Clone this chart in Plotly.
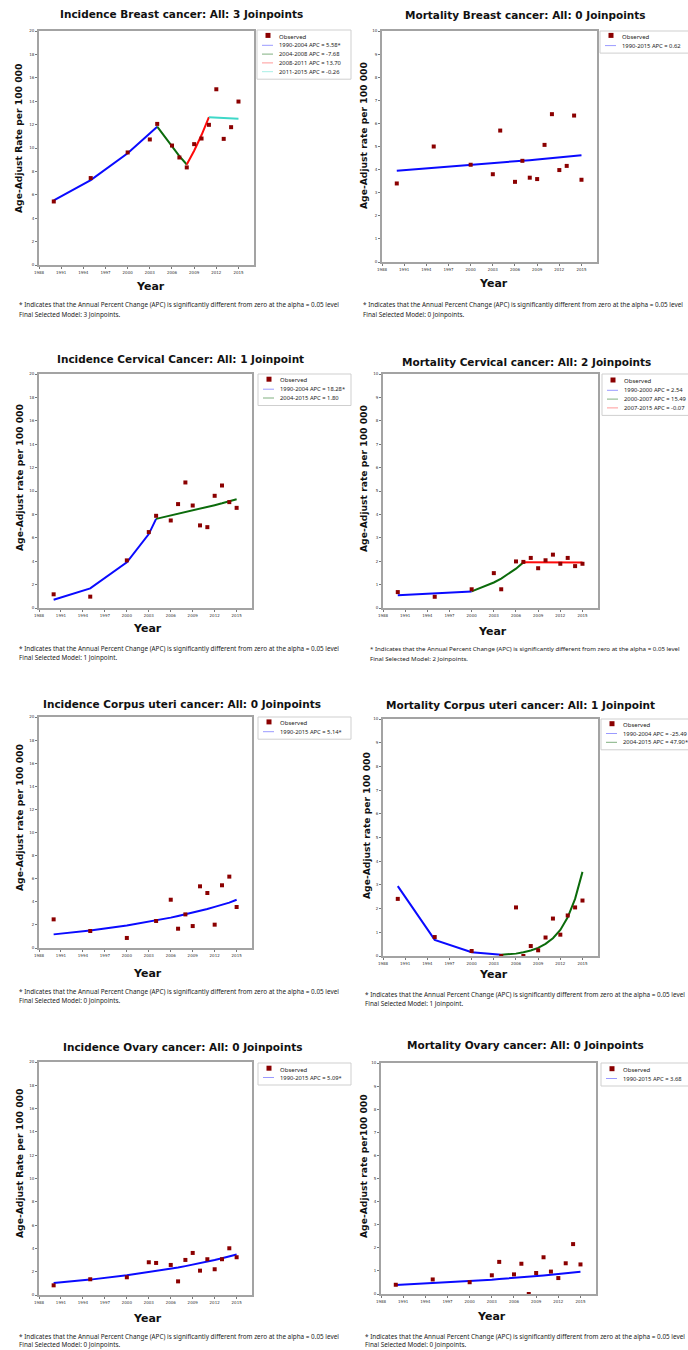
import plotly.graph_objects as go

W, H = 688, 1350

# ---------------- data ----------------
YEARS = [1990, 1995, 2000, 2003, 2004, 2006, 2007, 2008, 2009, 2010, 2011, 2012, 2013, 2014, 2015]
YEARS_CORPUS = [1990, 1995, 2000, 2004, 2006, 2007, 2008, 2009, 2010, 2011, 2012, 2013, 2014, 2015]

BREAST_INC_OBS = [5.43, 7.43, 9.62, 10.73, 12.06, 10.21, 9.19, 8.34, 10.33, 10.81, 11.98, 15.02, 10.78, 11.78, 13.97]
BREAST_INC_FIT = [5.52, 7.25, 9.55, 11.19, 11.82, 10.07, 9.30, 8.59, 9.77, 11.11, 12.63, 12.60, 12.56, 12.53, 12.50]
BREAST_INC_SEGS = [(1990, 2004), (2004, 2008), (2008, 2011), (2011, 2015)]

BREAST_MORT_OBS = [3.40, 5.00, 4.21, 3.80, 5.69, 3.47, 4.38, 3.65, 3.59, 5.07, 6.40, 3.98, 4.16, 6.34, 3.56]
BREAST_MORT_FIT = [3.95, 4.07, 4.20, 4.28, 4.30, 4.36, 4.38, 4.41, 4.44, 4.47, 4.50, 4.53, 4.56, 4.59, 4.62]
BREAST_MORT_SEGS = [(1990, 2015)]

CERV_INC_OBS = [1.17, 0.97, 4.07, 6.49, 7.88, 7.48, 8.88, 10.73, 8.76, 7.06, 6.91, 9.59, 10.47, 9.05, 8.56]
CERV_INC_FIT = [0.71, 1.68, 3.90, 6.32, 7.62, 7.90, 8.04, 8.18, 8.33, 8.48, 8.63, 8.79, 8.95, 9.11, 9.30]
CERV_INC_SEGS = [(1990, 2004), (2004, 2015)]

CERV_MORT_OBS = [0.68, 0.48, 0.80, 1.49, 0.80, 1.99, 1.97, 2.14, 1.70, 2.04, 2.28, 1.89, 2.14, 1.79, 1.89]
CERV_MORT_FIT = [0.55, 0.62, 0.71, 1.09, 1.26, 1.68, 1.95, 1.95, 1.95, 1.95, 1.94, 1.94, 1.94, 1.94, 1.94]
CERV_MORT_SEGS = [(1990, 2000), (2000, 2007), (2007, 2015)]

CORPUS_INC_OBS = [2.48, 1.47, 0.87, 2.34, 4.18, 1.67, 2.91, 1.90, 5.34, 4.76, 2.02, 5.43, 6.18, 3.55]
CORPUS_INC_FIT = [1.18, 1.52, 1.95, 2.38, 2.63, 2.77, 2.91, 3.06, 3.22, 3.38, 3.56, 3.74, 3.93, 4.18]
CORPUS_INC_SEGS = [(1990, 2015)]

CORPUS_MORT_OBS = [2.41, 0.80, 0.21, 0.00, 2.05, 0.00, 0.42, 0.24, 0.78, 1.58, 0.90, 1.71, 2.05, 2.34]
CORPUS_MORT_FIT = [2.95, 0.68, 0.16, 0.05, 0.10, 0.16, 0.23, 0.34, 0.51, 0.75, 1.10, 1.63, 2.41, 3.55]
CORPUS_MORT_SEGS = [(1990, 2004), (2004, 2015)]

OVARY_INC_OBS = [0.83, 1.35, 1.52, 2.81, 2.75, 2.58, 1.17, 3.01, 3.61, 2.09, 3.07, 2.21, 3.07, 4.01, 3.24]
OVARY_INC_FIT = [1.04, 1.32, 1.69, 1.95, 2.04, 2.25, 2.36, 2.48, 2.60, 2.73, 2.87, 3.01, 3.16, 3.31, 3.47]
OVARY_INC_SEGS = [(1990, 2015)]

OVARY_MORT_OBS = [0.40, 0.63, 0.51, 0.81, 1.39, 0.85, 1.31, 0.00, 0.91, 1.59, 0.97, 0.69, 1.33, 2.16, 1.28]
OVARY_MORT_FIT = [0.39, 0.47, 0.56, 0.62, 0.65, 0.69, 0.72, 0.75, 0.77, 0.80, 0.83, 0.86, 0.89, 0.93, 0.96]
OVARY_MORT_SEGS = [(1990, 2015)]

X_TICKS = [1988, 1991, 1994, 1997, 2000, 2003, 2006, 2009, 2012, 2015]

TITLES = [
    "Incidence Breast cancer: All: 3 Joinpoints",
    "Mortality Breast cancer: All: 0 Joinpoints",
    "Incidence Cervical Cancer: All: 1 Joinpoint",
    "Mortality Cervical cancer: All: 2 Joinpoints",
    "Incidence Corpus uteri cancer: All: 0 Joinpoints",
    "Mortality Corpus uteri cancer: All: 1 Joinpoint",
    "Incidence Ovary cancer: All: 0 Joinpoints",
    "Mortality Ovary cancer: All: 0 Joinpoints",
]
Y_TITLES = [
    "Age-Adjust Rate per 100 000",
    "Age-Adjust rate per 100 000",
    "Age-Adjust rate per 100 000",
    "Age-Adjust rate per 100 000",
    "Age-Adjust rate per 100 000",
    "Age-Adjust rate per 100 000",
    "Age-Adjust Rate per 100 000",
    "Age-Adjust rate per100 000",
]
LEGEND_LABELS = [
    ["1990-2004 APC = 5.58*", "2004-2008 APC = -7.68", "2008-2011 APC = 13.70", "2011-2015 APC = -0.26"],
    ["1990-2015 APC = 0.62"],
    ["1990-2004 APC = 18.28*", "2004-2015 APC = 1.80"],
    ["1990-2000 APC = 2.54", "2000-2007 APC = 15.49", "2007-2015 APC = -0.07"],
    ["1990-2015 APC = 5.14*"],
    ["1990-2004 APC = -25.49", "2004-2015 APC = 47.90*"],
    ["1990-2015 APC = 5.09*"],
    ["1990-2015 APC = 3.68"],
]
MODEL_NOTES = [
    "Final Selected Model: 3 Joinpoints.",
    "Final Selected Model: 0 Joinpoints.",
    "Final Selected Model: 1 Joinpoint.",
    "Final Selected Model: 2 Joinpoints.",
    "Final Selected Model: 0 Joinpoints.",
    "Final Selected Model: 1 Joinpoint.",
    "Final Selected Model: 0 Joinpoints.",
    "Final Selected Model: 0 Joinpoints.",
]
FOOTNOTE = "* Indicates that the Annual Percent Change (APC) is significantly different from zero at the alpha = 0.05 level"

# ---------------- styles / layout geometry ----------------
SEG_COLORS = ["#0a0aff", "#0b6b0b", "#ff0a0a", "#3fd8c8"]
LEG_COLORS = ["#9a9aff", "#80b080", "#ff9a9a", "#a8efe6"]
OBS_COLOR = "#8b0000"
FRAME = "#a3a3a3"

panels = [
    dict(years=YEARS, obs=BREAST_INC_OBS, fit=BREAST_INC_FIT, segs=BREAST_INC_SEGS, ymax=20, dtick=2,
         plot=(39, 31, 254, 265), title=(181, 14), ytitle=(19, 139), year=(150, 286), foot=(17, 305, 314),
         fsize=6.35, leg=(257, 30, 351), leg_obs=36.7, leg_l0=45.3),
    dict(years=YEARS, obs=BREAST_MORT_OBS, fit=BREAST_MORT_FIT, segs=BREAST_MORT_SEGS, ymax=10, dtick=1,
         plot=(382, 31, 597, 262), title=(525, 15), ytitle=(363, 136), year=(493, 284), foot=(361, 305, 314),
         fsize=6.35, leg=(600, 31, 696), leg_obs=36.7, leg_l0=45.6),
    dict(years=YEARS, obs=CERV_INC_OBS, fit=CERV_INC_FIT, segs=CERV_INC_SEGS, ymax=20, dtick=2,
         plot=(39, 374, 252, 608), title=(180, 359), ytitle=(19, 478), year=(147, 629), foot=(17, 648, 657),
         fsize=6.35, leg=(258, 374, 351), leg_obs=380.5, leg_l0=389.2),
    dict(years=YEARS, obs=CERV_MORT_OBS, fit=CERV_MORT_FIT, segs=CERV_MORT_SEGS, ymax=10, dtick=1,
         plot=(383, 374, 598, 608), title=(526, 362), ytitle=(363, 479), year=(492, 631), foot=(368, 649, 658),
         fsize=6.15, leg=(602, 374, 696), leg_obs=381.3, leg_l0=390.3),
    dict(years=YEARS_CORPUS, obs=CORPUS_INC_OBS, fit=CORPUS_INC_FIT, segs=CORPUS_INC_SEGS, ymax=20, dtick=2,
         plot=(39, 717, 252, 948), title=(182, 704), ytitle=(19, 818), year=(147, 973), foot=(17, 991, 1000),
         fsize=6.35, leg=(258, 717, 351), leg_obs=723.2, leg_l0=731.7),
    dict(years=YEARS_CORPUS, obs=CORPUS_MORT_OBS, fit=CORPUS_MORT_FIT, segs=CORPUS_MORT_SEGS, ymax=10, dtick=1,
         plot=(383, 719, 598, 956), title=(520, 705), ytitle=(366, 825), year=(493, 974), foot=(363, 994, 1003),
         fsize=6.35, leg=(601, 719, 696), leg_obs=725.0, leg_l0=733.5),
    dict(years=YEARS, obs=OVARY_INC_OBS, fit=OVARY_INC_FIT, segs=OVARY_INC_SEGS, ymax=20, dtick=2,
         plot=(39, 1062, 252, 1295), title=(182, 1047), ytitle=(19, 1164), year=(147, 1318), foot=(17, 1336, 1344.5),
         fsize=6.35, leg=(258, 1063, 351), leg_obs=1069.5, leg_l0=1077.5),
    dict(years=YEARS, obs=OVARY_MORT_OBS, fit=OVARY_MORT_FIT, segs=OVARY_MORT_SEGS, ymax=10, dtick=1,
         plot=(381, 1063, 596, 1294), title=(525, 1045), ytitle=(363, 1166), year=(491, 1316), foot=(363, 1336, 1344.5),
         fsize=6.35, leg=(601, 1063, 696), leg_obs=1070.0, leg_l0=1078.5),
]


def px(x):
    return x / W


def py(y):
    return 1 - y / H


fig = go.Figure()
layout = dict(width=W, height=H, margin=dict(l=0, r=0, t=0, b=0, autoexpand=False),
              paper_bgcolor="white", plot_bgcolor="white", showlegend=False)
annotations = []
shapes = []

TITLE_FONT = "DejaVu Sans"
SMALL_FONT = "Noto Sans"
ROW = 8.8

for i, p in enumerate(panels):
    n = i + 1
    xa = "xaxis" if n == 1 else f"xaxis{n}"
    ya = "yaxis" if n == 1 else f"yaxis{n}"
    xr = "x" if n == 1 else f"x{n}"
    yr = "y" if n == 1 else f"y{n}"
    x0, y0, x1, y1 = p["plot"]
    layout[xa] = dict(domain=[px(x0), px(x1)], anchor=yr, range=[1988, 2017.1],
                      tickmode="array", tickvals=X_TICKS, ticktext=[str(t) for t in X_TICKS],
                      tickfont=dict(size=4, color="#333", family=TITLE_FONT),
                      ticks="outside", ticklen=2, tickcolor="#777", tickwidth=1,
                      showline=True, linecolor=FRAME, linewidth=1.6, mirror=True,
                      showgrid=False, zeroline=False, fixedrange=True)
    layout[ya] = dict(domain=[py(y1), py(y0)], anchor=xr, range=[0, p["ymax"]],
                      dtick=p["dtick"], tick0=0,
                      tickfont=dict(size=4, color="#333", family=TITLE_FONT),
                      ticks="outside", ticklen=2, tickcolor="#777", tickwidth=1,
                      showline=True, linecolor=FRAME, linewidth=1.6, mirror=True,
                      showgrid=False, zeroline=False, fixedrange=True)

    # fitted segments
    for k, (a, b) in enumerate(p["segs"]):
        xs = [yy for yy in p["years"] if a <= yy <= b]
        ys = [v for yy, v in zip(p["years"], p["fit"]) if a <= yy <= b]
        fig.add_trace(go.Scatter(x=xs, y=ys, mode="lines", xaxis=xr, yaxis=yr,
                                 line=dict(color=SEG_COLORS[k], width=2), cliponaxis=False,
                                 hoverinfo="skip"))
    # observed
    fig.add_trace(go.Scatter(x=p["years"], y=p["obs"], mode="markers", xaxis=xr, yaxis=yr,
                             marker=dict(symbol="square", size=4, color=OBS_COLOR, line=dict(width=0)),
                             cliponaxis=False, name="Observed"))

    # title
    tx, ty = p["title"]
    annotations.append(dict(x=px(tx), y=py(ty), xref="paper", yref="paper", text="<b>%s</b>" % TITLES[i],
                            showarrow=False, xanchor="center", yanchor="middle",
                            font=dict(family=TITLE_FONT, size=10.5, color="#111")))
    # y title
    yx, yy_ = p["ytitle"]
    annotations.append(dict(x=px(yx), y=py(yy_), xref="paper", yref="paper", text="<b>%s</b>" % Y_TITLES[i],
                            showarrow=False, textangle=-90, xanchor="center", yanchor="middle",
                            font=dict(family=TITLE_FONT, size=9.2, color="#111")))
    # x title
    ex, ey = p["year"]
    annotations.append(dict(x=px(ex), y=py(ey), xref="paper", yref="paper", text="<b>Year</b>",
                            showarrow=False, xanchor="center", yanchor="middle",
                            font=dict(family=TITLE_FONT, size=11, color="#111")))
    # footnotes
    fx, f1, f2 = p["foot"]
    annotations.append(dict(x=px(fx), y=py(f1), xref="paper", yref="paper", text=FOOTNOTE,
                            showarrow=False, xanchor="left", yanchor="middle",
                            font=dict(family=SMALL_FONT, size=p["fsize"], color="#222")))
    annotations.append(dict(x=px(fx), y=py(f2), xref="paper", yref="paper", text=MODEL_NOTES[i],
                            showarrow=False, xanchor="left", yanchor="middle",
                            font=dict(family=SMALL_FONT, size=p["fsize"], color="#222")))

    # legend box (drawn manually)
    lx0, ly0, lx1 = p["leg"]
    labels = LEGEND_LABELS[i]
    last_row = p["leg_l0"] + ROW * (len(labels) - 1)
    ly1 = last_row + 7.5
    shapes.append(dict(type="rect", xref="paper", yref="paper", x0=px(lx0), x1=px(lx1),
                       y0=py(ly1), y1=py(ly0), line=dict(color="#cfcfcf", width=1), fillcolor="white",
                       layer="below"))
    oy = p["leg_obs"] - 1.3
    shapes.append(dict(type="rect", xref="paper", yref="paper", x0=px(lx0 + 8.5), x1=px(lx0 + 13.5),
                       y0=py(oy + 2.5), y1=py(oy - 2.5), line=dict(width=0), fillcolor=OBS_COLOR))
    annotations.append(dict(x=px(lx0 + 19.5), y=py(p["leg_obs"]), xref="paper", yref="paper", text="Observed",
                            showarrow=False, xanchor="left", yanchor="middle",
                            font=dict(family=SMALL_FONT, size=6, color="#222")))
    for k, lab in enumerate(labels):
        ry = p["leg_l0"] + ROW * k
        shapes.append(dict(type="line", xref="paper", yref="paper", x0=px(lx0 + 5), x1=px(lx0 + 16),
                           y0=py(ry), y1=py(ry), line=dict(color=LEG_COLORS[k], width=1)))
        annotations.append(dict(x=px(lx0 + 19.5), y=py(ry), xref="paper", yref="paper", text=lab,
                                showarrow=False, xanchor="left", yanchor="middle",
                                font=dict(family=SMALL_FONT, size=5.8, color="#222")))

layout["annotations"] = annotations
layout["shapes"] = shapes
fig.update_layout(**layout)
fig.write_html("out.html",
               config={"displayModeBar": False, "staticPlot": False},
               post_script="document.body.style.margin='0';document.body.style.padding='0';"
                           "document.documentElement.style.overflow='hidden';")
